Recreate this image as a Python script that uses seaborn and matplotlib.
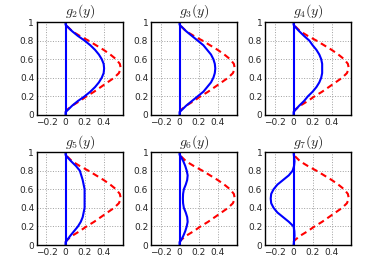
import numpy as np
import pandas as pd
import matplotlib
matplotlib.use("Agg")
import matplotlib.pyplot as plt
import seaborn as sns

# y coordinates shared by all profiles
y_vals = [0.0, 0.03, 0.05, 0.10, 0.15, 0.20, 0.25, 0.30, 0.35, 0.40, 0.45, 0.50,
          0.55, 0.60, 0.65, 0.70, 0.75, 0.80, 0.85, 0.90, 0.95, 0.97, 1.0]

# red dashed reference profile (same in every panel)
ref_vals = [np.nan, 0.0, 0.01, 0.07, 0.15, 0.22, 0.30, 0.37, 0.44, 0.51, 0.56, 0.58,
            0.57, 0.53, 0.47, 0.40, 0.32, 0.24, 0.15, 0.07, 0.02, 0.0, np.nan]

g2_vals = [0.0, 0.0, 0.02, 0.07, 0.13, 0.20, 0.26, 0.31, 0.35, 0.38, 0.40, 0.405,
           0.40, 0.38, 0.35, 0.31, 0.26, 0.20, 0.13, 0.07, 0.02, 0.0, 0.0]
g3_vals = [0.0, 0.0, 0.02, 0.07, 0.13, 0.19, 0.25, 0.29, 0.33, 0.355, 0.37, 0.375,
           0.37, 0.355, 0.33, 0.29, 0.25, 0.19, 0.13, 0.07, 0.02, 0.0, 0.0]
g4_vals = [0.0, 0.0, 0.015, 0.06, 0.11, 0.15, 0.20, 0.24, 0.27, 0.29, 0.30, 0.30,
           0.30, 0.29, 0.27, 0.24, 0.20, 0.165, 0.11, 0.06, 0.015, 0.0, 0.0]
g5_vals = [0.0, 0.0, 0.015, 0.05, 0.09, 0.13, 0.16, 0.18, 0.19, 0.20, 0.20, 0.20,
           0.20, 0.20, 0.19, 0.18, 0.165, 0.15, 0.11, 0.06, 0.015, 0.0, 0.0]
g6_vals = [0.0, 0.0, 0.015, 0.04, 0.06, 0.075, 0.085, 0.08, 0.065, 0.045, 0.037, 0.035,
           0.037, 0.045, 0.065, 0.08, 0.085, 0.075, 0.06, 0.04, 0.015, 0.0, 0.0]
g7_vals = [0.0, 0.003, 0.005, 0.01, 0.008, 0.0, -0.05, -0.11, -0.17, -0.21, -0.235, -0.24,
           -0.235, -0.21, -0.17, -0.11, -0.05, -0.01, 0.005, 0.01, 0.005, 0.002, 0.0]

# vertical zero axis drawn in every panel
zero_x = [0.0, 0.0]
zero_y = [0.0, 1.0]

titles = ["$g_2(y)$", "$g_3(y)$", "$g_4(y)$", "$g_5(y)$", "$g_6(y)$", "$g_7(y)$"]
profiles = [g2_vals, g3_vals, g4_vals, g5_vals, g6_vals, g7_vals]
x_ticks = [-0.2, 0, 0.2, 0.4]
x_tick_labels = ["\u22120.2", "0", "0.2", "0.4"]
y_ticks = [0, 0.2, 0.4, 0.6, 0.8, 1]
y_tick_labels = ["0", "0.2", "0.4", "0.6", "0.8", "1"]

sns.set_style("white")
plt.rcParams["mathtext.fontset"] = "cm"

fig, axes = plt.subplots(2, 3, figsize=(3.85, 2.75), dpi=100)
fig.subplots_adjust(left=0.096, right=0.911, top=0.92, bottom=0.109,
                    wspace=0.33, hspace=0.40)

for ax, title, prof in zip(axes.flat, titles, profiles):
    df = pd.DataFrame({"y": y_vals, "g": prof, "ref": ref_vals})
    ax.grid(True, linestyle=":", color="#a0a0a0", linewidth=0.7)
    ax.set_axisbelow(True)
    sns.lineplot(data=df.dropna(subset=["ref"]), x="ref", y="y", ax=ax, color="red",
                 linewidth=1.5, linestyle=(0, (3, 2)), sort=False, estimator=None)
    sns.lineplot(x=zero_x, y=zero_y, ax=ax, color="blue", linewidth=1.5,
                 sort=False, estimator=None)
    sns.lineplot(data=df, x="g", y="y", ax=ax, color="blue", linewidth=1.5,
                 sort=False, estimator=None)
    ax.set_xlim(-0.3, 0.6)
    ax.set_ylim(0, 1)
    ax.set_xticks(x_ticks)
    ax.set_xticklabels(x_tick_labels)
    ax.set_yticks(y_ticks)
    ax.set_yticklabels(y_tick_labels)
    ax.tick_params(labelsize=6.5, direction="in", length=2, pad=2)
    ax.set_xlabel("")
    ax.set_ylabel("")
    ax.set_title(title, fontsize=10, pad=5)
    for s in ax.spines.values():
        s.set_color("black")
        s.set_linewidth(1.0)

fig.savefig("out.png", dpi=100)
